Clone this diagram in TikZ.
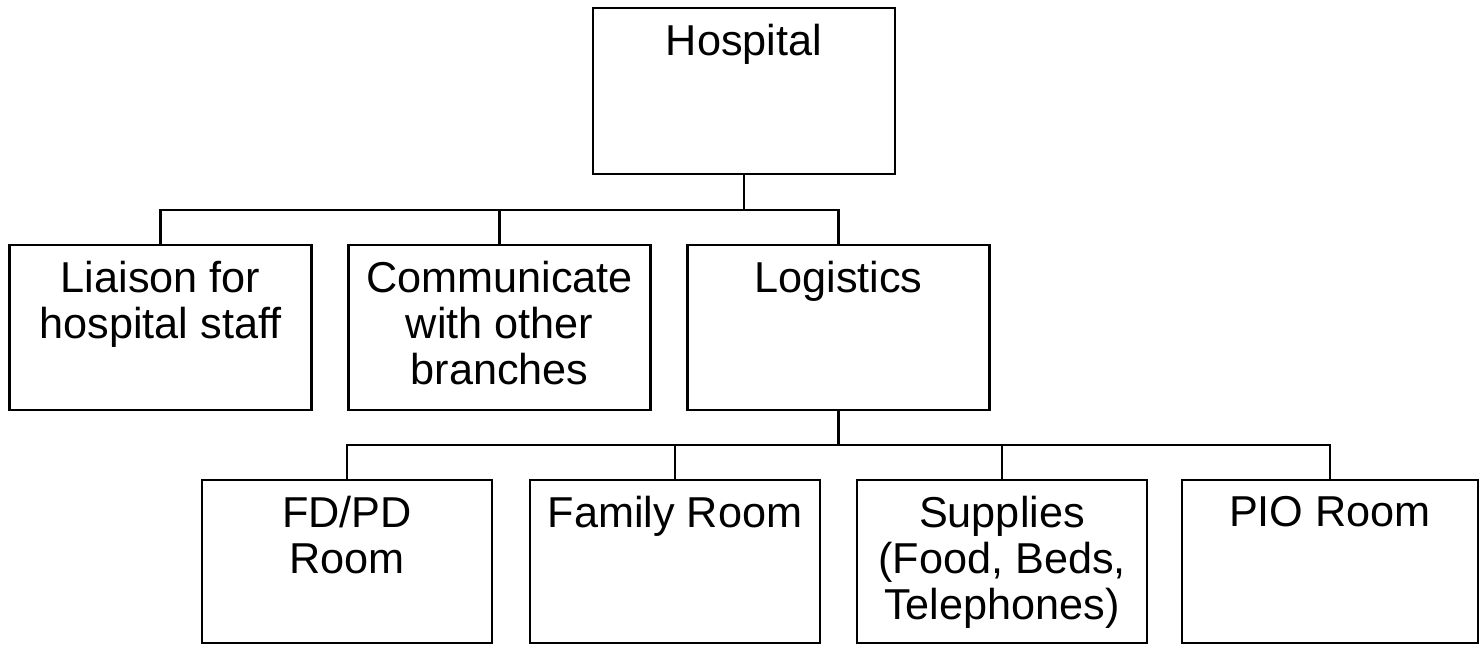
\documentclass[tikz,border=0pt]{standalone}
\usepackage{fontspec}
\setmainfont{Liberation Sans}
\usetikzlibrary{positioning}

\begin{document}
\begin{tikzpicture}[
    node distance=0.74cm,
    box/.style={rectangle, draw=black, line width=1.4pt, minimum width=6.04cm, minimum height=3.3cm, inner sep=0pt, outer sep=0pt},
    room/.style={box, minimum width=5.8cm, minimum height=3.26cm},
    boxtext/.style={anchor=north, align=center, inner sep=0pt, yshift=-0.32cm, font=\fontsize{24.6}{26}\selectfont},
    link/.style={draw=black, line width=1.4pt}
]
    \useasboundingbox (0,0) rectangle (29.66,-12.9);

    % Level 1: Hospital
    \node[box, minimum height=3.32cm, label={[boxtext]north:Hospital}] (hospital) at (14.88,-1.82) {};

    % Level 2: Branches
    \node[box, label={[boxtext]north:{Liaison for\\hospital staff}}] (liaison) at (3.21,-6.55) {};
    \node[box, right=of liaison, label={[boxtext]north:{Communicate\\with other\\branches}}] (communicate) {};
    \node[box, right=of communicate, label={[boxtext]north:Logistics}] (logistics) {};

    % Level 3: Logistics rooms
    \node[room, label={[boxtext]north:{FD/PD\\Room}}] (fdpd) at (6.94,-11.23) {};
    \node[room, right=0.76cm of fdpd, label={[boxtext]north:Family Room}] (family) {};
    \node[room, right=0.74cm of family, label={[boxtext]north:{Supplies\\(Food, Beds,\\Telephones)}}] (supplies) {};
    \node[room, right=0.7cm of supplies, minimum width=5.92cm, label={[boxtext]north:PIO Room}] (pio) {};

    % Draw Connectors
    \coordinate (topbus) at ([yshift=-0.72cm]hospital.south);
    \draw[link] (hospital.south) -- (topbus) -| (liaison.north);
    \draw[link] (topbus) -| (communicate.north);
    \draw[link] (topbus) -| (logistics.north);

    \coordinate (lowbus) at ([yshift=-0.7cm]logistics.south);
    \draw[link] (logistics.south) -- (lowbus) -| (fdpd.north);
    \draw[link] (lowbus) -| (family.north);
    \draw[link] (lowbus) -| (supplies.north);
    \draw[link] (lowbus) -| (pio.north);

\end{tikzpicture}
\end{document}
